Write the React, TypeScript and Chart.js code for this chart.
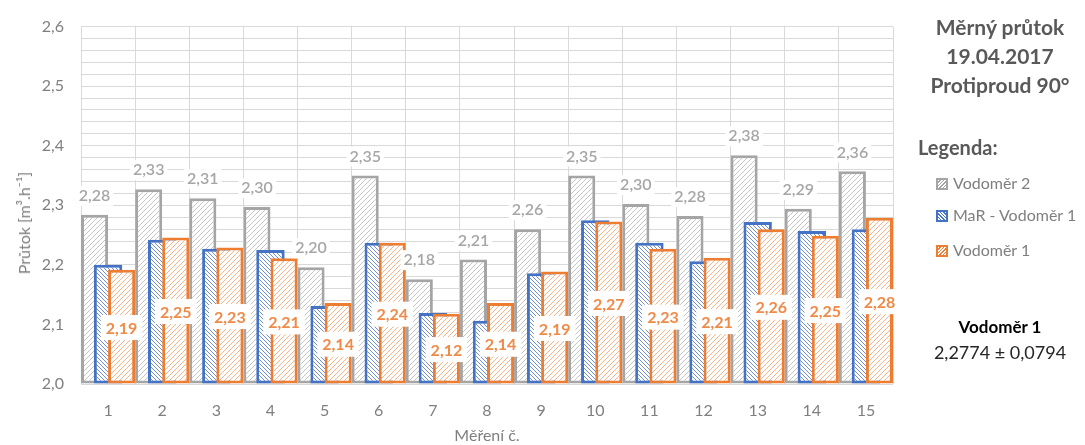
import React, { useEffect, useRef } from 'react';
import { Chart, registerables } from 'chart.js';

Chart.register(...registerables);

const categories = ['1', '2', '3', '4', '5', '6', '7', '8', '9', '10', '11', '12', '13', '14', '15'];
const vodomer2 = [2.284, 2.327, 2.312, 2.297, 2.196, 2.35, 2.176, 2.209, 2.26, 2.35, 2.302, 2.282, 2.384, 2.294, 2.357];
const marVodomer1 = [2.2, 2.242, 2.227, 2.225, 2.131, 2.237, 2.119, 2.106, 2.186, 2.275, 2.237, 2.206, 2.272, 2.257, 2.26];
const vodomer1 = [2.192, 2.246, 2.229, 2.211, 2.136, 2.237, 2.118, 2.136, 2.189, 2.273, 2.227, 2.212, 2.26, 2.249, 2.279];
const seriesNames = ['Vodoměr 2', 'MaR - Vodoměr 1', 'Vodoměr 1'];
const yMin = 2.0;
const yMax = 2.6;
const yStep = 0.02;
const titleLines = ['Měrný průtok', '19.04.2017', 'Protiproud 90°'];
const statName = 'Vodoměr 1';
const statText = '2,2774 ± 0,0794';
const yTitle = 'Průtok [m³.h⁻¹]';
const xTitle = 'Měření č.';

const FONT = 'Lato, "Open Sans", sans-serif';
const GRAY = '#a5a5a5';
const BLUE = '#4472c4';
const ORANGE = '#ed7d31';

const fmt2 = (v: number) => v.toFixed(2).replace('.', ',');

function makeHatch(color: string, dir: '/' | '\\', size: number, lw: number) {
  const c = document.createElement('canvas');
  c.width = size;
  c.height = size;
  const ctx = c.getContext('2d')!;
  ctx.fillStyle = '#ffffff';
  ctx.fillRect(0, 0, size, size);
  ctx.strokeStyle = color;
  ctx.lineWidth = lw;
  ctx.beginPath();
  if (dir === '/') {
    ctx.moveTo(-1, 1); ctx.lineTo(1, -1);
    ctx.moveTo(0, size); ctx.lineTo(size, 0);
    ctx.moveTo(size - 1, size + 1); ctx.lineTo(size + 1, size - 1);
  } else {
    ctx.moveTo(0, 0); ctx.lineTo(size, size);
    ctx.moveTo(-1, size - 1); ctx.lineTo(1, size + 1);
    ctx.moveTo(size - 1, -1); ctx.lineTo(size + 1, 1);
  }
  ctx.stroke();
  return ctx.createPattern(c, 'repeat')!;
}

const orderPlugin = {
  id: 'drawOrder',
  beforeDatasetsDraw(chart: any) {
    const ctx = chart.ctx;
    const a = chart.chartArea;
    ctx.save();
    ctx.beginPath();
    ctx.rect(a.left, a.top, a.right - a.left, a.bottom - a.top);
    ctx.clip();
    for (let i = 0; i < chart.data.datasets.length; i++) {
      const meta = chart.getDatasetMeta(i);
      if (!meta.hidden) meta.controller.draw();
    }
    ctx.restore();
    return false;
  },
};

const labelPlugin = {
  id: 'valueLabels',
  afterDraw(chart: any) {
    const ctx = chart.ctx;
    ctx.save();
    ctx.textAlign = 'center';
    ctx.textBaseline = 'middle';
    const g = chart.getDatasetMeta(0);
    g.data.forEach((bar: any, i: number) => {
      const t = fmt2(vodomer2[i]);
      ctx.font = `600 16px ${FONT}`;
      const w = ctx.measureText(t).width;
      const cy = bar.y - 19;
      ctx.fillStyle = '#ffffff';
      ctx.fillRect(bar.x - w / 2 - 3, cy - 10, w + 6, 20);
      ctx.fillStyle = '#a6a6a6';
      ctx.fillText(t, bar.x, cy);
    });
    const o = chart.getDatasetMeta(2);
    o.data.forEach((bar: any, i: number) => {
      const t = fmt2(vodomer1[i]);
      ctx.font = `bold 16px ${FONT}`;
      const w = ctx.measureText(t).width;
      const cy = (bar.y + bar.base) / 2 + 1;
      ctx.fillStyle = '#ffffff';
      ctx.fillRect(bar.x - w / 2 - 5, cy - 12.5, w + 10, 25);
      ctx.fillStyle = '#ef8a48';
      ctx.fillText(t, bar.x, cy + 1);
    });
    ctx.restore();
  },
};

const legendSwatch = (color: string, dir: string): React.CSSProperties => ({
  display: 'inline-block',
  width: 8,
  height: 8,
  border: `2px solid ${color}`,
  background: `repeating-linear-gradient(${dir === '/' ? '-45deg' : '45deg'}, #fff 0 1.5px, ${color} 1.5px 2.5px)`,
  marginRight: 5,
  verticalAlign: '-1px',
});

export default function App() {
  const ref = useRef<HTMLCanvasElement>(null);

  useEffect(() => {
    document.body.style.margin = '0';
    const canvas = ref.current!;
    const grayPat = makeHatch('#c4c4c4', '/', 5, 1);
    const bluePat = makeHatch('#6f8fd0', '\\', 4, 1);
    const orangePat = makeHatch('#f5b48a', '/', 5, 1);
    const common = { borderWidth: 3, borderSkipped: false, categoryPercentage: 0.75, base: yMin };
    const chart = new Chart(canvas, {
      type: 'bar',
      data: {
        labels: categories,
        datasets: [
          { ...common, label: seriesNames[0], data: vodomer2, backgroundColor: grayPat, borderColor: GRAY, barPercentage: 2.0 },
          { ...common, label: seriesNames[1], data: marVodomer1, backgroundColor: bluePat, borderColor: BLUE, barPercentage: 2.1 },
          { ...common, label: seriesNames[2], data: vodomer1, backgroundColor: orangePat, borderColor: ORANGE, barPercentage: 2.0 },
        ],
      },
      options: {
        responsive: false,
        animation: false,
        layout: { padding: { left: 0, top: 22, right: 192, bottom: 0 } },
        plugins: { legend: { display: false }, tooltip: { enabled: false }, title: { display: false } },
        scales: {
          x: {
            grid: { color: '#d9d9d9', lineWidth: 1, drawTicks: false, offset: true },
            border: { display: false },
            ticks: { color: '#7f7f7f', font: { family: FONT, size: 16 }, padding: 17 },
            title: { display: true, text: xTitle, color: '#7f7f7f', font: { family: FONT, size: 16 }, padding: 0 },
            afterFit: (s: any) => { s.height = 61; },
          },
          y: {
            min: yMin,
            max: yMax,
            grid: { color: '#d9d9d9', lineWidth: 1, drawTicks: false },
            border: { display: false },
            ticks: {
              stepSize: yStep,
              autoSkip: false,
              color: '#7f7f7f',
              font: { family: FONT, size: 16 },
              padding: 17,
              callback: (v: any) => {
                const n = Math.round(Number(v) * 100);
                return n % 10 === 0 ? (n / 100).toFixed(1).replace('.', ',') : '';
              },
            },
            afterFit: (s: any) => { s.width = 81; },
          },
        },
      },
      plugins: [orderPlugin, labelPlugin],
    } as any);
    return () => chart.destroy();
  }, []);

  const textBase: React.CSSProperties = { position: 'absolute', fontFamily: FONT, whiteSpace: 'nowrap' };

  return (
    <div style={{ position: 'absolute', left: 0, top: 0, width: 1085, height: 445, background: '#fff', overflow: 'hidden' }}>
      <canvas ref={ref} width={1085} height={445} style={{ display: 'block' }} />
      <div style={{ ...textBase, left: 24, top: 223, fontSize: 16, color: '#7f7f7f', lineHeight: '20px', transform: 'translate(-50%, -50%) rotate(-90deg)' }}>{yTitle}</div>
      {titleLines.map((t, i) => (
        <div key={t} style={{ ...textBase, left: 915, width: 170, top: 13 + i * 29, textAlign: 'center', fontWeight: 700, fontSize: 21, color: '#595959', lineHeight: '28px' }}>{t}</div>
      ))}
      <div style={{ ...textBase, left: 918, top: 135, fontWeight: 700, fontSize: 20, color: '#595959', lineHeight: '24px' }}>Legenda:</div>
      {seriesNames.map((n, i) => {
        const color = [GRAY, BLUE, ORANGE][i];
        const dir = i === 1 ? '\\' : '/';
        return (
          <div key={n} style={{ ...textBase, left: 936, top: [172, 204, 239][i], fontSize: 16, color: '#7f7f7f', lineHeight: '22px' }}>
            <span style={legendSwatch(color, dir)} />
            {n}
          </div>
        );
      })}
      <div style={{ ...textBase, left: 915, width: 170, top: 316, textAlign: 'center', fontWeight: 700, fontSize: 17, color: '#000', lineHeight: '22px' }}>{statName}</div>
      <div style={{ ...textBase, left: 915, width: 170, top: 341, textAlign: 'center', fontSize: 18, color: '#262626', lineHeight: '22px' }}>{statText}</div>
    </div>
  );
}
